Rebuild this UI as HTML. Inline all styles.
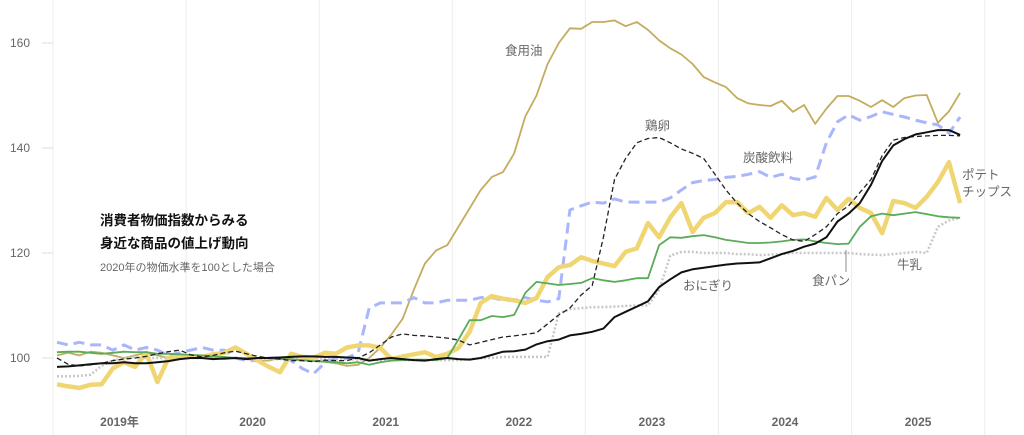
<!DOCTYPE html>
<html><head><meta charset="utf-8">
<style>
html,body{margin:0;padding:0;background:#fff;}
svg{display:block;font-family:"Liberation Sans","Noto Sans CJK JP",sans-serif;}
</style></head>
<body>
<svg id="chart" width="1024" height="435" viewBox="0 0 1024 435">
<g id="grid"></g>
<g id="yaxis"></g>
<g id="xaxis"></g>
<g id="series"></g>
<g>
<text x="100" y="225" font-size="13.5" font-weight="bold" fill="#111">消費者物価指数からみる</text>
<text x="100" y="248" font-size="13.5" font-weight="bold" fill="#111">身近な商品の値上げ動向</text>
<text x="100" y="271" font-size="11" fill="#666">2020年の物価水準を100とした場合</text>
</g>
<g font-size="12.5" fill="#666">
<text x="505" y="55">食用油</text>
<text x="645" y="130">鶏卵</text>
<text x="743" y="162">炭酸飲料</text>
<text x="962" y="179">ポテト</text>
<text x="962" y="196">チップス</text>
<text x="683" y="290">おにぎり</text>
<text x="812" y="285">食パン</text>
<text x="897" y="269">牛乳</text>
<line x1="846" y1="250" x2="846" y2="272" stroke="#888" stroke-width="1"/>
</g>
</svg>
<script>
const yearLabels = ["2019年","2020","2021","2022","2023","2024","2025"];
const yTicks = [100,120,140,160];
const oil = [100.5,101,100.5,101.2,101,100.5,100,100.5,101,100.5,100,100,
100,100.3,100,99.8,100,99.8,99.5,99.5,100,99.8,99.5,99.5,
99.3,99,98.5,98.7,100,102,104.5,107.5,113,118,120.5,121.5,
125,128.5,132,134.5,135.4,139,146,150,156,160,162.8,162.7,
164,164,164.3,163.2,164,162.5,160.5,159,157.8,
156,153.5,152.5,151.6,149.5,148.5,148.2,148,149,146.9,148.2,144.6,147.5,149.9,149.9,149,147.8,149.1,147.8,149.5,150,150.1,144.8,147,150.5];
const milk = [96.5,96.5,96.6,96.8,98.5,99.5,100,100.2,100,100,100,100,
100,100,100,100,100,100,99.8,99.8,99.8,99.8,99.8,99.8,
99.8,99.8,99.8,99.7,99.7,99.6,99.6,99.6,99.6,99.6,99.6,99.6,
99.6,99.8,100,100,100.2,100.2,100.2,100.2,100.2,108.5,109.3,109.5,
109.7,109.7,109.8,109.9,110,110,113,119.5,120.2,120.2,120,120,
120,119.8,119.8,119.6,119.7,119.8,120,120,120,120,120,120,
119.8,119.7,119.6,119.8,120,120.2,120,125,126.2,126.7];
const soda = [103,102.5,103,102.5,102.5,101.5,102.5,101.5,102,101.5,100.5,101,
101.5,102,101.5,101.5,100,99.5,99.5,100,100,99.5,98,97,
99,100,100,101,109.5,110.5,110.5,110.5,111.5,110.5,110.5,111,
111,111,111.5,111.5,111,111,111.5,111,110.7,111.3,
128.2,129,129.7,129.5,130.3,129.7,129.7,129.7,129.7,130.5,
132,133.4,133.8,134,134.4,134.6,135,135.5,134.4,135,134.2,133.9,
134.5,141,145,146.3,145.3,146,146.9,146.4,145.9,145.3,144.8,144.4,142.8,145.9];
const chips = [95,94.6,94.3,94.9,95,98,99.2,98.3,101,95.4,100,100.2,
100.2,100.2,100.7,101,102,100.8,99.5,98.3,97.3,100.8,100.2,100,
101,100.8,102,102.4,102.4,101.9,99.8,100.3,100.7,101.1,100.2,100.8,
101.9,105,110.5,111.8,111.3,111,110.5,111.4,115.4,117.3,117.7,119.2,
118.5,118,117.5,120.2,120.9,125.7,123,126.8,129.5,124,126.7,127.6,
129.7,129.7,127.6,128.8,126.7,129.1,127.2,127.6,126.9,130.5,128.2,130.3,
128.6,127.6,123.8,129.9,129.5,128.6,130.7,133.5,137.3,129.5];
const bread = [101.1,101.2,101.2,101,100.8,101,101.2,101.1,101.1,100.8,100.8,100.7,
100.6,100.5,100.3,100.2,100,100,100,100,99.8,99.8,99.6,99.4,
99.3,99.2,99,99.2,98.7,99.2,99.5,99.6,99.7,99.7,99.6,100,
103.5,107.2,107.2,108,107.8,108.2,112.4,114.5,114.2,113.9,114.1,114.3,
115.2,114.8,114.5,114.8,115.2,115.2,121.5,123,122.9,123.2,123.4,123,
122.5,122.2,121.9,121.9,122,122.2,122.5,122.6,122.2,121.9,121.7,121.8,
125,127,127.5,127.2,127.5,127.8,127.4,127,126.8,126.7];
const eggs = [100,98.8,98.5,98.7,99,99.5,99.8,100,100.3,100.8,101.2,101.5,
100.6,100.2,100.5,101,101.3,100.8,100.3,100,99.8,99.5,99.5,99.3,
99.6,99.5,99.5,100,101,102.5,104,104.6,104.3,104.2,104,103.8,
103.4,102.5,103,103.5,104,104.2,104.5,104.8,106.5,108.2,109.5,112,
113.8,123,134,138,141,141.8,142,141,139.8,139,138,135,
132,129.5,127.5,126,124.8,123.5,122.5,122.2,123.5,125,127.5,129,
131.5,134,138.5,141.5,142,142.2,142.3,142.4,142.4,142.3];
const onigiri = [98.3,98.4,98.6,98.8,99,99,99.2,99,99,99.2,99.4,99.8,
100,100,99.8,99.9,100,99.8,100,100,100.1,100.2,100.3,100.3,
100.2,100.2,100.1,100,99.5,99.8,100,99.8,99.6,99.5,99.8,100,
99.8,99.7,100,100.6,101.2,101.3,101.6,102.6,103.2,103.5,104.3,104.6,
105,105.6,107.8,108.8,109.8,110.8,113.5,115,116.3,116.9,117.2,117.5,
117.8,118,118.1,118.2,119,119.8,120.4,121.2,121.8,123,126,127.5,
129.5,133,137.5,140.5,141.7,142.6,143,143.4,143.4,142.5];

const NS = "http://www.w3.org/2000/svg";
function xScale(i){ return 57 + i * 11.15; }
function yScale(v){ return 358 - (v - 100) * 5.25; }
function yearX(k){ return 53 + k * 133.1; }
function mk(tag, attrs, parent){
  const el = document.createElementNS(NS, tag);
  for (const k in attrs) el.setAttribute(k, attrs[k]);
  parent.appendChild(el);
  return el;
}
const grid = document.getElementById('grid');
for (let k = 0; k <= yearLabels.length; k++) {
  const l = mk('line', {x1: yearX(k), x2: yearX(k), y1: 0, y2: 435, stroke: '#ececec', 'stroke-width': 1}, grid);
  
  
}
const xaxis = document.getElementById('xaxis');
yearLabels.forEach((t, k) => {
  const tx = mk('text', {x: yearX(k) + 66.5, y: 426, 'text-anchor': 'middle', 'font-size': 12, 'font-weight': 'bold', fill: '#666'}, xaxis);
  tx.textContent = t;
  
  
});
const yaxis = document.getElementById('yaxis');
yTicks.forEach(v => {
  const tx = mk('text', {x: 10, y: yScale(v) + 4, 'font-size': 12, fill: '#666'}, yaxis);
  tx.textContent = v;
  
  
  const tl = mk('line', {x1: 42, x2: 53, y1: yScale(v), y2: yScale(v), stroke: '#ddd', 'stroke-width': 1}, yaxis);
  
  
});
const seriesG = document.getElementById('series');
function drawLine(data, style, name){
  const d = data.map((v, i) => (i ? 'L' : 'M') + xScale(i).toFixed(1) + ',' + yScale(v).toFixed(1)).join('');
  const p = mk('path', Object.assign({d: d, fill: 'none', 'stroke-linejoin': 'round'}, style), seriesG);
  
  
}
drawLine(oil, {stroke: '#c4ac5e', 'stroke-width': 1.8}, 'line-cooking-oil');
drawLine(milk, {stroke: '#c8c8c8', 'stroke-width': 2.5, 'stroke-dasharray': '2,2'}, 'line-milk');
drawLine(soda, {stroke: '#aab6fa', 'stroke-width': 3, 'stroke-dasharray': '11,6'}, 'line-soda');
drawLine(chips, {stroke: '#f0d673', 'stroke-width': 4.5}, 'line-potato-chips');
drawLine(bread, {stroke: '#5aab5a', 'stroke-width': 1.8}, 'line-bread');
drawLine(eggs, {stroke: '#222', 'stroke-width': 1.3, 'stroke-dasharray': '5,3'}, 'line-eggs');
drawLine(onigiri, {stroke: '#111', 'stroke-width': 2}, 'line-onigiri');
</script>
</body></html>
